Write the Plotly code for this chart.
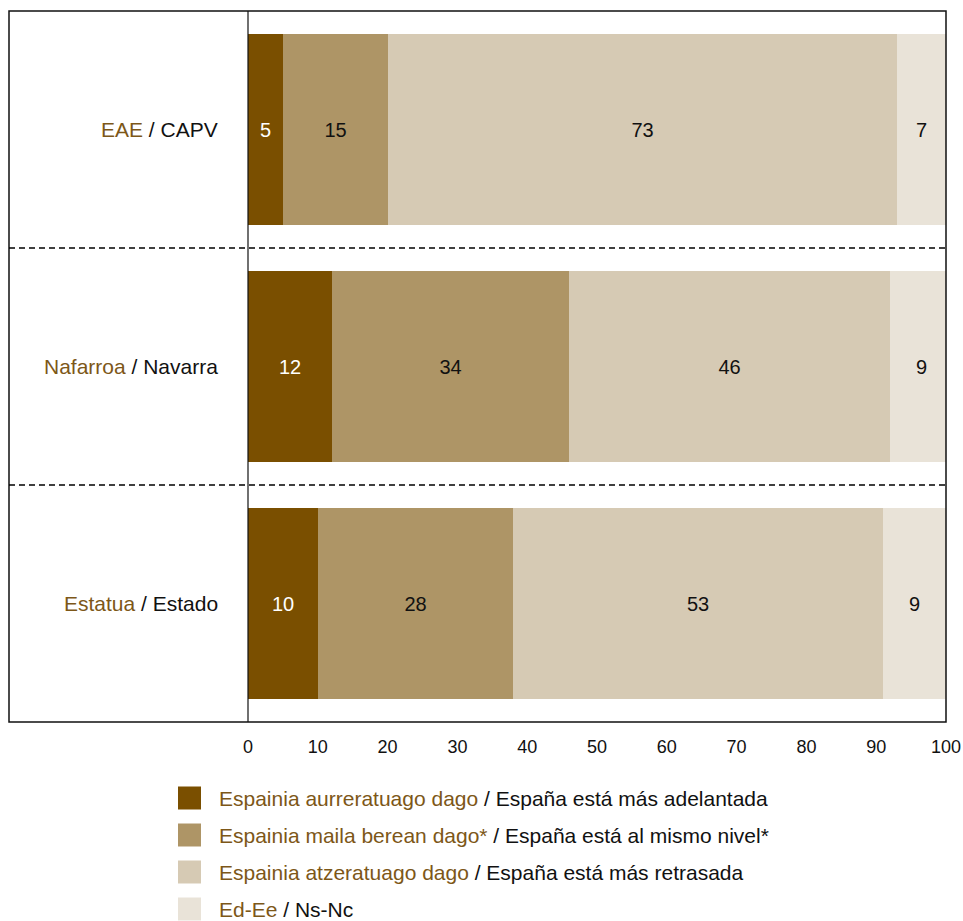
import plotly.graph_objects as go

# Regions (top to bottom via reversed axis)
regions_eu = ["EAE", "Nafarroa", "Estatua"]
regions_es = ["CAPV", "Navarra", "Estado"]

series_eu = [
    "Espainia aurreratuago dago",
    "Espainia maila berean dago*",
    "Espainia atzeratuago dago",
    "Ed-Ee",
]
series_es = [
    "España está más adelantada",
    "España está al mismo nivel*",
    "España está más retrasada",
    "Ns-Nc",
]

values = [
    [5, 12, 10],
    [15, 34, 28],
    [73, 46, 53],
    [7, 9, 9],
]

colors = ["#7a4f00", "#ae9566", "#d6cab4", "#e9e3d8"]
text_colors = ["#ffffff", "#111111", "#111111", "#111111"]
brown_text = "#7d5718"

x_ticks = list(range(0, 101, 10))

W, H = 963, 921
L, R, T, B = 248, 17, 11, 199
PW, PH = W - L - R, H - T - B
FAMILY = "Liberation Sans, Arial, Helvetica, sans-serif"


def px_x(p):
    return (p - L) / PW


def px_y(p):
    return (H - B - p) / PH


cats = list(range(len(regions_eu)))

fig = go.Figure()
for vals, color, tcol in zip(values, colors, text_colors):
    fig.add_trace(go.Bar(
        y=cats,
        x=vals,
        orientation="h",
        width=0.81,
        marker=dict(color=color, line=dict(width=0)),
        text=[str(v) for v in vals],
        textposition="inside",
        insidetextanchor="middle",
        textfont=dict(color=tcol, size=20, family=FAMILY),
        constraintext="none",
        showlegend=False,
        hoverinfo="skip",
    ))

shapes = []
# outer frame and divider between labels and bars
shapes.append(dict(type="rect", xref="paper", yref="paper",
                   x0=px_x(9), x1=1, y0=0, y1=1,
                   line=dict(color="#111111", width=1.5), layer="above"))
shapes.append(dict(type="line", xref="paper", yref="paper",
                   x0=0, x1=0, y0=0, y1=1,
                   line=dict(color="#111111", width=1.2), layer="above"))
# dashed separators between regions
for k in range(len(regions_eu) - 1):
    shapes.append(dict(type="line", xref="paper", yref="y",
                       x0=px_x(9), x1=1, y0=k + 0.5, y1=k + 0.5,
                       line=dict(color="#000000", width=1.3, dash="6px,4px"),
                       layer="above"))

annotations = []
font = dict(size=21, color="#111111", family=FAMILY)
for i, (eu, es) in enumerate(zip(regions_eu, regions_es)):
    annotations.append(dict(
        xref="paper", yref="y", x=px_x(220), y=i,
        xanchor="right", yanchor="middle", showarrow=False,
        text=f"<span style='color:{brown_text}'>{eu}</span> / {es}",
        font=font,
    ))

# legend drawn as swatches and labels below the chart
for j, (eu, es, color) in enumerate(zip(series_eu, series_es, colors)):
    cy = 798 + j * 37
    shapes.append(dict(type="rect", xref="paper", yref="paper",
                       x0=px_x(178), x1=px_x(201),
                       y0=px_y(cy + 11.5), y1=px_y(cy - 11.5),
                       fillcolor=color, line=dict(width=0)))
    annotations.append(dict(
        xref="paper", yref="paper", x=px_x(218), y=px_y(cy),
        xanchor="left", yanchor="middle", showarrow=False,
        text=f"<span style='color:{brown_text}'>{eu}</span> / {es}",
        font=font, borderpad=0,
    ))

fig.update_layout(
    width=W, height=H,
    margin=dict(l=L, r=R, t=T, b=B),
    paper_bgcolor="white",
    plot_bgcolor="white",
    barmode="stack",
    bargap=0,
    shapes=shapes,
    annotations=annotations,
    xaxis=dict(
        range=[0, 100],
        tickvals=x_ticks,
        ticktext=[str(v) for v in x_ticks],
        showgrid=False, zeroline=False, showline=False,
        ticks="",
        ticklabelstandoff=12,
        automargin=False,
        tickfont=dict(size=18, color="#111111", family=FAMILY),
        fixedrange=True,
    ),
    yaxis=dict(
        range=[2.5, -0.5],
        showticklabels=False,
        showgrid=False, zeroline=False, showline=False,
        ticks="",
        automargin=False,
        fixedrange=True,
    ),
)

fig.write_html("out.html")
